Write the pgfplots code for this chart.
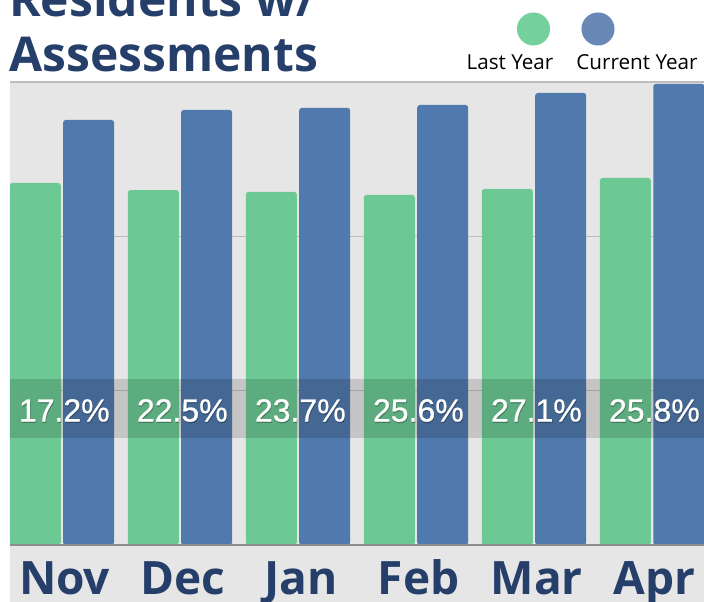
\documentclass[border=0pt]{standalone}
\usepackage{pgfplots}
\pgfplotsset{compat=1.18}
\usepackage{fontspec}
\setmainfont{Open Sans}
\newfontfamily\labelfont[FakeBold=0.7]{Liberation Sans}
\definecolor{bgGray}{HTML}{E6E6E6}
\definecolor{gridGray}{HTML}{BDBDBD}
\definecolor{baseGray}{HTML}{8C8C8C}
\definecolor{navy}{HTML}{263F6A}
\definecolor{lastYear}{HTML}{6DC994}
\definecolor{curYear}{HTML}{5079AD}
\definecolor{lastLeg}{HTML}{74D19C}
\definecolor{curLeg}{HTML}{6889B6}

\begin{document}
\begin{tikzpicture}[x=0.75pt,y=0.75pt]
% strip under the axis (page is 704 x 602 px)
\fill[bgGray] (10,0) rectangle (704,57);
\begin{axis}[
  at={(7.5pt,42.75pt)}, anchor=south west,
  scale only axis, width=520.5pt, height=347.25pt,
  xmin=-0.44, xmax=5.44, ymin=0, ymax=30,
  axis background/.style={fill=bgGray},
  axis line style={draw=none},
  xtick={0,...,5}, xticklabels={Nov,Dec,Jan,Feb,Mar,Apr},
  xticklabel style={anchor=base, yshift=-37.5pt, xshift=2pt, text=navy,
    font=\fontsize{34.5}{34.5}\selectfont\bfseries},
  ytick={10,20,30}, yticklabels={},
  ymajorgrids, grid style={gridGray, line width=1.2pt},
  major tick length=0pt,
  clip=false,
]
\addplot[ybar, bar width=0.432, bar shift=-0.226, fill=lastYear, draw=none, rounded corners=2pt]
  coordinates {(0,23.46) (1,23.00) (2,22.88) (3,22.68) (4,23.07) (5,23.78)};
\addplot[ybar, bar width=0.432, bar shift=0.226, fill=curYear, draw=none, rounded corners=2pt]
  coordinates {(0,27.54) (1,28.19) (2,28.32) (3,28.51) (4,29.29) (5,29.88)};
\draw[baseGray, line width=1.5pt] (axis cs:-0.44,0) -- (axis cs:5.44,0);
% label band
\fill[black, opacity=0.14] (axis cs:-0.44,6.93) rectangle (axis cs:5.44,10.76);
% soft shadow under the labels
\addplot[draw=none, nodes near coords, point meta=explicit symbolic,
  every node near coord/.style={anchor=base, text=black, text opacity=0.22,
    xshift=0.4pt, yshift=-1pt, font=\labelfont\fontsize{24}{24}\selectfont}]
  coordinates {(0.02,8.0) [17.2\%] (1.02,8.0) [22.5\%] (2.02,8.0) [23.7\%]
               (3.02,8.0) [25.6\%] (4.02,8.0) [27.1\%] (5.02,8.0) [25.8\%]};
\addplot[draw=none, nodes near coords, point meta=explicit symbolic,
  every node near coord/.style={anchor=base, text=white,
    font=\labelfont\fontsize{24}{24}\selectfont}]
  coordinates {(0.02,8.0) [17.2\%] (1.02,8.0) [22.5\%] (2.02,8.0) [23.7\%]
               (3.02,8.0) [25.6\%] (4.02,8.0) [27.1\%] (5.02,8.0) [25.8\%]};
\end{axis}
% title
\node[anchor=base west, inner sep=0, text=navy, font=\fontsize{36}{36}\selectfont\bfseries]
  at (9,585.5) {Residents w/};
\node[anchor=base west, inner sep=0, text=navy, font=\fontsize{36}{36}\selectfont\bfseries]
  at (9,530.3) {Assessments};
% legend
\fill[lastLeg] (533.5,573) circle (12.4pt);
\fill[curLeg] (598,573) circle (12.4pt);
\node[anchor=base, inner sep=0, font=\fontsize{15.5}{15.5}\selectfont] at (510,532) {Last Year};
\node[anchor=base, inner sep=0, font=\fontsize{15.5}{15.5}\selectfont] at (637,532) {Current Year};
\pgfresetboundingbox
\useasboundingbox (0,0) rectangle (704,602);
\end{tikzpicture}
\end{document}
